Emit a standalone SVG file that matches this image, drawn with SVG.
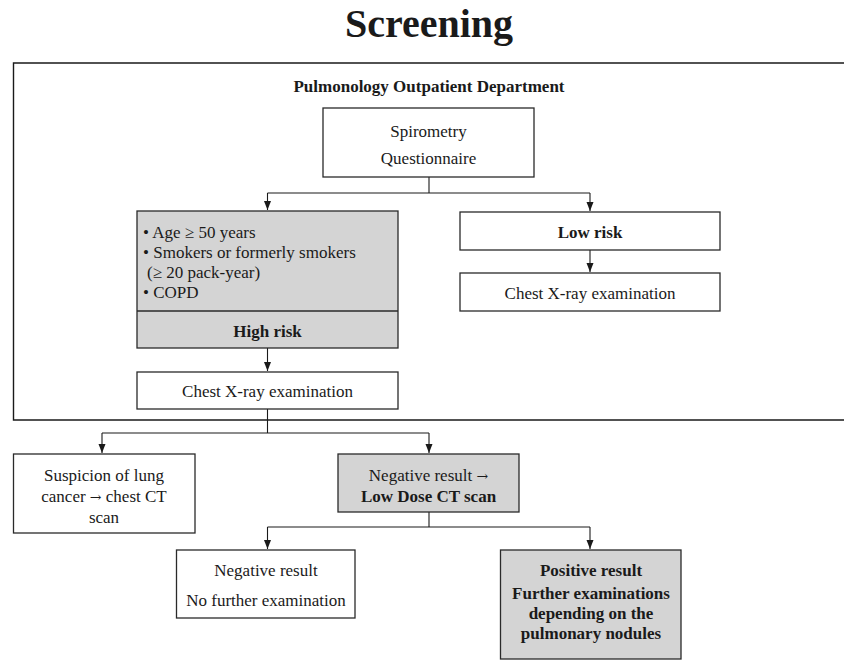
<svg xmlns="http://www.w3.org/2000/svg" width="844" height="660" viewBox="0 0 844 660">
<style>
  text { font-family: "Liberation Serif", "Times New Roman", serif; fill: #1a1a1a; }
  .t { font-size: 17px; text-anchor: middle; }
  .b { font-size: 17px; text-anchor: middle; font-weight: bold; }
  .l { font-size: 17px; }
  .ar { font-family: "DejaVu Serif", serif; font-size: 14px; }
  .box { fill: #ffffff; stroke: #2a2a2a; stroke-width: 1.3; }
  .gbox { fill: #d4d4d4; stroke: #2a2a2a; stroke-width: 1.3; }
  .con { fill: none; stroke: #1a1a1a; stroke-width: 1.1; }
  .arr { fill: none; stroke: #1a1a1a; stroke-width: 1.1; marker-end: url(#ah); }
</style>
<defs>
  <marker id="ah" markerUnits="userSpaceOnUse" markerWidth="10" markerHeight="8" refX="9" refY="3.5" orient="auto">
    <path d="M0,0 L9,3.5 L0,7 z" fill="#1a1a1a"/>
  </marker>
</defs>
<rect width="844" height="660" fill="#ffffff"/>
<text x="429" y="37" style="font-size:40px;font-weight:bold;text-anchor:middle">Screening</text>
<g id="department">
  <path d="M844,63 H13.5 V420 H844" fill="none" stroke="#1a1a1a" stroke-width="1.4"/>
  <text x="429" y="92" style="font-size:17px;font-weight:bold;text-anchor:middle">Pulmonology Outpatient Department</text>
</g>
<g id="connectors">
  <path class="con" d="M429,177 V193 M267.5,193 H590"/>
  <path class="arr" d="M267.5,193 V210"/>
  <path class="arr" d="M590,193 V211"/>
  <path class="arr" d="M267.5,348 V371"/>
  <path class="arr" d="M590,250 V272"/>
  <path class="con" d="M267.5,409 V433 M102,433 H429"/>
  <path class="arr" d="M102,433 V453"/>
  <path class="arr" d="M429,433 V453"/>
  <path class="con" d="M429,512 V527 M267.5,527 H590"/>
  <path class="arr" d="M267.5,527 V549"/>
  <path class="arr" d="M590,527 V549"/>
</g>
<g id="spirometry">
  <rect class="box" x="323" y="108" width="211" height="69"/>
  <text class="t" x="428.5" y="137">Spirometry</text>
  <text class="t" x="428.5" y="164">Questionnaire</text>
</g>
<g id="high-risk">
  <rect class="gbox" x="137" y="211" width="261" height="137"/>
  <line x1="137" y1="311" x2="398" y2="311" stroke="#2a2a2a" stroke-width="1.3"/>
  <text class="l" x="143" y="238">• Age ≥ 50 years</text>
  <text class="l" x="143" y="258">• Smokers or formerly smokers</text>
  <text class="l" x="147" y="278">(≥ 20 pack-year)</text>
  <text class="l" x="143" y="298">• COPD</text>
  <text class="b" x="267.5" y="337">High risk</text>
</g>
<g id="chest-xray-high">
  <rect class="box" x="137" y="372" width="261" height="37"/>
  <text class="t" x="267.5" y="397">Chest X-ray examination</text>
</g>
<g id="low-risk">
  <rect class="box" x="460" y="212" width="260" height="38"/>
  <text class="b" x="590" y="238">Low risk</text>
</g>
<g id="chest-xray-low">
  <rect class="box" x="460" y="273" width="260" height="38"/>
  <text class="t" x="590" y="299">Chest X-ray examination</text>
</g>
<g id="suspicion">
  <rect class="box" x="13.5" y="454" width="181.5" height="79"/>
  <text class="t" x="104" y="481">Suspicion of lung</text>
  <text class="t" x="104" y="502">cancer <tspan class="ar">→</tspan> chest CT</text>
  <text class="t" x="104" y="523">scan</text>
</g>
<g id="ldct">
  <rect class="gbox" x="338" y="454" width="181" height="58"/>
  <text class="t" x="428.5" y="481">Negative result <tspan class="ar">→</tspan></text>
  <text class="b" x="428.5" y="502">Low Dose CT scan</text>
</g>
<g id="negative">
  <rect class="box" x="176.5" y="550" width="178.5" height="68"/>
  <text class="t" x="266" y="576">Negative result</text>
  <text class="t" x="266" y="606">No further examination</text>
</g>
<g id="positive">
  <rect class="gbox" x="500.5" y="550" width="180.5" height="109"/>
  <text class="b" x="591" y="576">Positive result</text>
  <text class="b" x="591" y="599">Further examinations</text>
  <text class="b" x="591" y="619">depending on the</text>
  <text class="b" x="591" y="639">pulmonary nodules</text>
</g>
</svg>
